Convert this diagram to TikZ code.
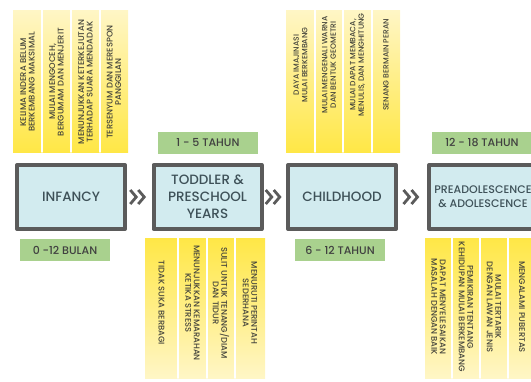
\documentclass[tikz,border=0pt]{standalone}
\usepackage{fontspec}
\setmainfont{Poppins}[UprightFont={* Medium}]
\usetikzlibrary{calc}
\definecolor{boxfill}{HTML}{D2EBEF}
\definecolor{boxline}{HTML}{5B5B5B}
\definecolor{boxtext}{HTML}{3E5158}
\definecolor{agegreen}{HTML}{A9D18E}
\definecolor{yelstrong}{HTML}{FFE746}
\definecolor{yelpale}{HTML}{FFF6C6}
\definecolor{notetext}{HTML}{45453C}
\begin{document}
\begin{tikzpicture}[x=1pt, y=-1pt, line join=round, line cap=round,
	stage/.style={draw=boxline, line width=4pt, fill=boxfill, text=boxtext, minimum width=108pt, minimum height=64pt, align=center, inner sep=0pt, font=\fontsize{13.5}{17}\selectfont},
	age/.style={fill=agegreen, text=black!75, minimum height=22pt, inner sep=0pt, font=\fontsize{11}{12}\selectfont},
	note/.style={text=notetext, align=center, inner sep=0pt, font=\fontsize{8.3}{8.6}\selectfont},
	chev/.style={draw=boxline, line width=2.8pt, line cap=butt, line join=miter},
	sep/.style={white, line width=1.5pt}]
	\useasboundingbox (0,0) rectangle (531,381);
	\clip (0,0) rectangle (531,381);
	\shade[top color=yelpale, middle color=yelstrong, bottom color=yelstrong] (13,10) rectangle (128,152);
	\shade[top color=yelpale, middle color=yelstrong, bottom color=yelstrong] (286,10) rectangle (400,152);
	\shade[top color=yelstrong, middle color=yelstrong, bottom color=yelpale] (145,238) rectangle (265,378);
	\shade[top color=yelstrong, middle color=yelstrong, bottom color=yelpale] (425,238) rectangle (545,378);
	\foreach \x in {42,71,100,315,343,372}{\draw[sep] (\x,10)--(\x,152);}
	\foreach \x in {178,207,235,452,480,508}{\draw[sep] (\x,238)--(\x,378);}
	\node[stage] (inf) at (71,197) {INFANCY};
	\node[stage] (tod) at (207.5,197) {TODDLER \&\\PRESCHOOL\\YEARS};
	\node[stage] (chi) at (342,197) {CHILDHOOD};
	\node[stage, font=\fontsize{11}{14}\selectfont] (pre) at (483,197) {PREADOLESCENCE\\\& ADOLESCENCE};
	\node[age, minimum width=90pt] (a-inf) at (65,250) {0 -12 BULAN};
	\node[age, minimum width=100pt] (a-tod) at (208,143) {1 - 5 TAHUN};
	\node[age, minimum width=90pt] (a-chi) at (340,250) {6 - 12 TAHUN};
	\node[age, minimum width=100pt] (a-pre) at (482,143) {12 - 18 TAHUN};
	\foreach \a/\b in {inf/tod,tod/chi,chi/pre}{
		\coordinate (m) at ($(\a.east)!.5!(\b.west)$);
		\draw[chev] ($(m)+(-9,-7)$)--++(6,7)--++(-6,7);
		\draw[chev] ($(m)+(-1,-7)$)--++(6,7)--++(-6,7);
	}
	\foreach \x/\t [count=\i] in {27.5/{KELIMA INDERA BELUM\\BERKEMBANG MAKSIMAL},56.5/{MULAI MENGOCEH,\\BERGUMAM DAN MENJERIT},85.5/{MENUNJUKKAN KETERKEJUTAN\\TERHADAP SUARA MENDADAK},114/{TERSENYUM DAN MERESPON\\PANGGILAN}}
		{\node[note, rotate=90] (n-inf\i) at (\x,82) {\t};}
	\foreach \x/\t [count=\i] in {300.5/{DAYA IMAJINASI\\MULAI BERKEMBANG},329/{MULAI MENGENALI WARNA\\DAN BENTUK GEOMETRI},357.5/{MULAI DAPAT MEMBACA,\\MENULIS, DAN MENGHITUNG},386/{SENANG BERMAIN PERAN}}
		{\node[note, rotate=90, font=\fontsize{7.6}{8.4}\selectfont] (n-chi\i) at (\x,65) {\t};}
	\foreach \x/\t [count=\i] in {161.5/{TIDAK SUKA BERBAGI},192.5/{MENUNJUKKAN KEMARAHAN\\KETIKA STRESS},221/{SULIT UNTUK TENANG/DIAM\\DAN TIDUR},250/{MENURUTI PERINTAH\\SEDERHANA}}
		{\node[note, rotate=-90] (n-tod\i) at (\x,303) {\t};}
	\foreach \x/\t [count=\i] in {438.5/{DAPAT MENYELESAIKAN\\MASALAH DENGAN BAIK},466/{PEMIKIRAN TENTANG\\KEHIDUPAN MULAI BERKEMBANG},494/{MULAI TERTARIK\\DENGAN LAWAN JENIS},522/{MENGALAMI PUBERTAS}}
		{\node[note, rotate=-90] (n-pre\i) at (\x,307) {\t};}
\end{tikzpicture}
\end{document}
